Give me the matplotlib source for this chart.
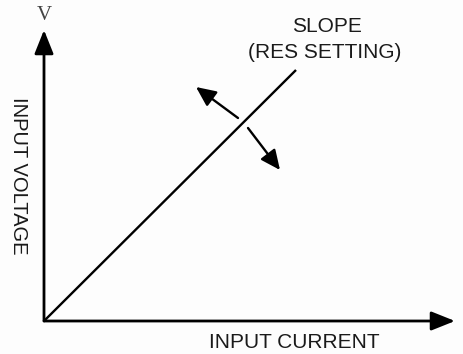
import matplotlib.pyplot as plt

# diagram coordinates (origin of the graph = 0,0)
slope_x = [0, 2.52]
slope_y = [0, 2.51]
x_axis_end = 4.11
y_axis_end = 2.91

# the "turn the slope" arrow, split where it crosses the line
turn_up = [(1.94, 2.03), (1.52, 2.34)]
turn_down = [(2.04, 1.93), (2.36, 1.51)]

fig = plt.figure(figsize=(4.64, 3.54), dpi=100)
fig.patch.set_facecolor('#fdfdfd')
ax = fig.add_axes([0, 0, 1, 1])
ax.set_facecolor('#fdfdfd')
ax.set_xlim(-0.44, 4.20)
ax.set_ylim(-0.33, 3.21)
ax.axis('off')

axis_arrow = dict(arrowstyle='-|>,head_length=1.45,head_width=0.58',
                  color='black', lw=2.0, shrinkA=0, shrinkB=0, mutation_scale=10)
ax.annotate('', xy=(x_axis_end, 0), xytext=(0, 0), arrowprops=axis_arrow)
ax.annotate('', xy=(0, y_axis_end), xytext=(0, 0), arrowprops=axis_arrow)

ax.plot(slope_x, slope_y, color='black', lw=1.7, solid_capstyle='butt')

turn_arrow = dict(arrowstyle='-|>,head_length=1.2,head_width=0.55',
                  color='black', lw=1.7, shrinkA=0, shrinkB=0, mutation_scale=10)
ax.annotate('', xy=turn_up[1], xytext=turn_up[0], arrowprops=turn_arrow)
ax.annotate('', xy=turn_down[1], xytext=turn_down[0], arrowprops=turn_arrow)

font = 'Liberation Sans'
ax.text(0, 3.06, 'V', family='Liberation Serif', fontsize=15, color='#444444',
        ha='center', va='center')
ax.text(2.83, 2.94, 'SLOPE', family=font, fontsize=15, color='#1a1a1a',
        ha='center', va='center')
ax.text(2.81, 2.69, '(RES SETTING)', family=font, fontsize=15, color='#1a1a1a',
        ha='center', va='center')
ax.text(2.50, -0.21, 'INPUT CURRENT', family=font, fontsize=15, color='#1a1a1a',
        ha='center', va='center')
ax.text(-0.26, 1.45, 'INPUT VOLTAGE', family=font, fontsize=14.5, color='#1a1a1a',
        ha='center', va='center', rotation=270)

fig.savefig('out.png', dpi=100, facecolor=fig.get_facecolor())
